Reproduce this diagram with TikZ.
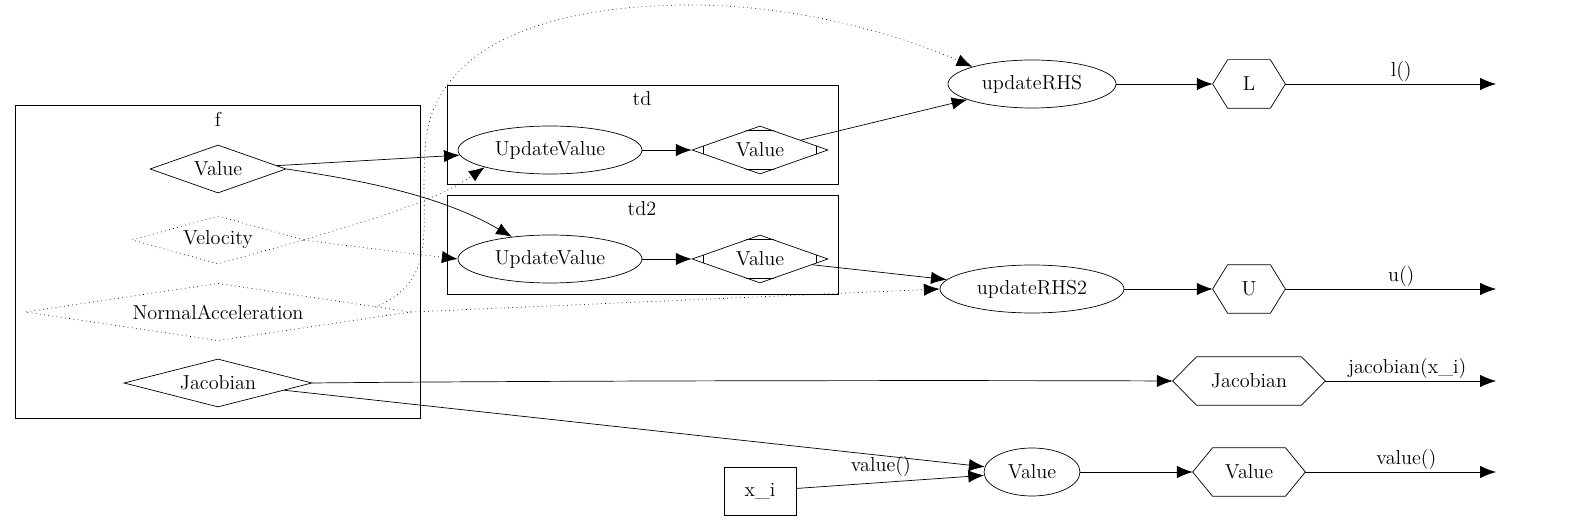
\documentclass[tikz,border=0pt]{standalone}
\usepackage{tikz}
\usetikzlibrary{shapes.geometric,arrows.meta,calc}
\begin{document}
\begin{tikzpicture}[x=0.02cm,y=-0.02cm,
  every node/.style={font=\fontsize{11.5}{13}\selectfont},
  dia/.style={shape=diamond,draw,inner sep=0pt,aspect=4,minimum height=0.96cm},
  ell/.style={shape=ellipse,draw,inner sep=0pt,minimum height=0.96cm},
  hex/.style={inner sep=0pt,minimum height=0.96cm},
  arr/.style={-{Latex[length=9pt,width=7pt]},thin},
  dot/.style={dotted,thin},
  clus/.style={draw,thin}]
\useasboundingbox (0,0) rectangle (1585,526);
% clusters
\draw[clus] (15,105) rectangle (420,418);
\node at (218,119) {f};
\draw[clus] (447,85) rectangle (838,184);
\node at (642,99) {td};
\draw[clus] (447,195) rectangle (838,294);
\node at (642,209) {td2};
% f nodes
\node[dia,minimum width=2.72cm] (fv) at (218,169) {Value};
\node[dia,dotted,minimum width=3.44cm] (vel) at (218,240) {Velocity};
\node[dia,dotted,minimum width=7.72cm] (na) at (218,312) {NormalAcceleration};
\node[dia,minimum width=3.76cm] (fj) at (218,383) {Jacobian};
% td
\node[ell,minimum width=3.68cm] (uv1) at (550,150) {UpdateValue};
\node[dia,minimum width=2.72cm] (tv1) at (760,150) {Value};
\node[ell,minimum width=3.68cm] (uv2) at (550,259) {UpdateValue};
\node[dia,minimum width=2.72cm] (tv2) at (760,259) {Value};
\foreach \n in {tv1,tv2}{
  \draw[thin] ($(\n.west)+(12,-4.2)$) -- ($(\n.west)+(12,4.2)$);
  \draw[thin] ($(\n.east)+(-12,-4.2)$) -- ($(\n.east)+(-12,4.2)$);
  \draw[thin] ($(\n.north)+(-14,5)$) -- ($(\n.north)+(14,5)$);
  \draw[thin] ($(\n.south)+(-14,-5)$) -- ($(\n.south)+(14,-5)$);
}
% right side
\node[ell,minimum width=3.36cm] (rhs) at (1032,84) {updateRHS};
\node[ell,minimum width=3.68cm] (rhs2) at (1032,289) {updateRHS2};
\node[ell,minimum width=1.92cm] (val) at (1032,472) {Value};
\node[draw,thin,minimum width=1.44cm,minimum height=0.96cm,inner sep=0pt] (xi) at (760,491) {x\_i};
\node[hex,minimum width=1.44cm] (L) at (1249,84) {L};
\node[hex,minimum width=1.44cm] (U) at (1249,289) {U};
\node[hex,minimum width=3.04cm] (J) at (1249,381) {Jacobian};
\node[hex,minimum width=2.24cm] (V) at (1249,472) {Value};
\foreach \n/\i in {L/15,U/15,J/24,V/20}{
  \draw[thin] (\n.west) -- ($(\n.north west)+(\i,0)$) -- ($(\n.north east)+(-\i,0)$) -- (\n.east)
    -- ($(\n.south east)+(-\i,0)$) -- ($(\n.south west)+(\i,0)$) -- cycle;
}
\coordinate (eL) at (1496,84);
\coordinate (eU) at (1496,289);
\coordinate (eJ) at (1496,381);
\coordinate (eV) at (1496,472);
% edges
\draw[arr] (fv) -- (uv1);
\draw[arr] (fv.east) .. controls (360,180) and (440,195) .. (uv2);
\draw[arr,dot] (vel.east) .. controls (350,225) and (430,205) .. (uv1.south west);
\draw[arr,dot] (vel.east) .. controls (340,245) and (400,252) .. (uv2.west);
\draw[arr,dot] (375,307) .. controls (440,280) and (420,230) .. (425,150)
   .. controls (430,40) and (560,5) .. (690,5) .. controls (800,5) and (900,35) .. (rhs.north west);
\draw[arr,dot] (na.east) -- (rhs2.west);
\draw[arr] (tv1) -- (rhs);
\draw[arr] (tv2) -- (rhs2);
\draw[arr] (fj.east) .. controls (500,381) and (900,380) .. (J.west);
\draw[arr] (fj) -- (val);
\draw[arr] (xi) -- node[above,pos=0.45] {value()} (val);
\draw[arr] (uv1) -- (tv1);
\draw[arr] (uv2) -- (tv2);
\draw[arr] (rhs) -- (L);
\draw[arr] (rhs2) -- (U);
\draw[arr] (val) -- (V);
\draw[arr] (L) -- node[above,pos=0.55,inner sep=1pt] {l()} (eL);
\draw[arr] (U) -- node[above,pos=0.55,inner sep=1pt] {u()} (eU);
\draw[arr] (J) -- node[above,pos=0.48,inner sep=1pt] {jacobian(x\_i)} (eJ);
\draw[arr] (V) -- node[above,pos=0.53,inner sep=1pt] {value()} (eV);
\end{tikzpicture}
\end{document}
